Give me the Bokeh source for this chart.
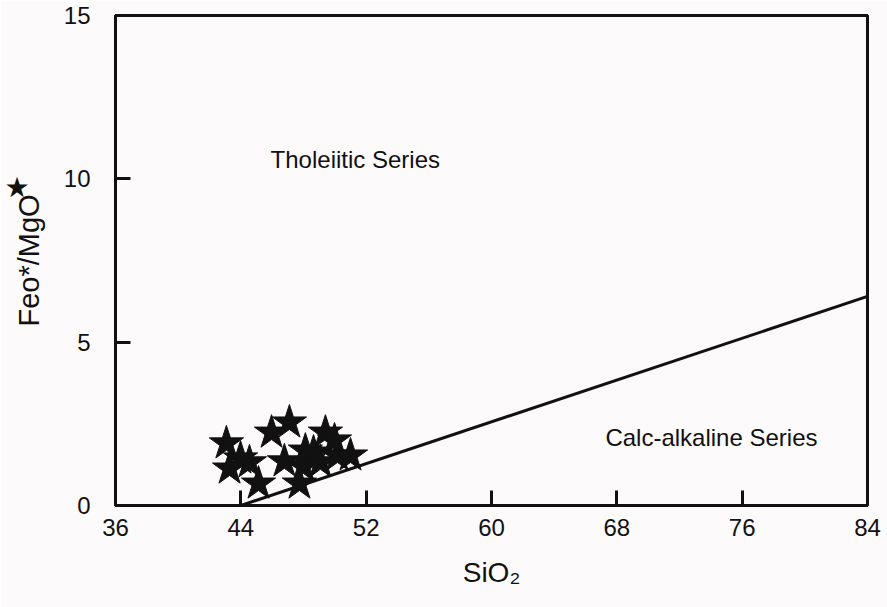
import math
from bokeh.plotting import figure
from bokeh.models import Range1d, FixedTicker, Label, ColumnDataSource, LinearAxis
from bokeh.embed import file_html
from bokeh.resources import INLINE

# data
sio2 = [43.08, 43.28, 43.98, 44.55, 45.13, 45.96, 47.10, 46.78, 47.74,
        48.12, 48.64, 49.40, 49.98, 48.00, 49.08, 50.17, 51.00]
feo_mgo = [1.90, 1.13, 1.44, 1.32, 0.67, 2.23, 2.54, 1.35, 0.67,
           1.68, 1.62, 2.23, 1.99, 1.19, 1.32, 1.53, 1.53]
boundary_x = [44, 84]
boundary_y = [0, 6.4]
x_ticks = [36, 44, 52, 60, 68, 76, 84]
y_ticks = [0, 5, 10, 15]
star_mark_y = 9.72

FONT = "Liberation Sans"
BG = "#fcfafa"
INK = "#111111"

p = figure(width=887, height=607, output_backend="svg", toolbar_location=None,
           x_range=Range1d(36, 84), y_range=Range1d(0, 15),
           min_border_left=115, min_border_right=20, min_border_top=15,
           min_border_bottom=102)
p.background_fill_color = BG
p.border_fill_color = BG
p.outline_line_color = INK
p.outline_line_width = 3
p.grid.visible = False

for ax in (p.xaxis[0], p.yaxis[0]):
    ax.axis_line_color = INK
    ax.axis_line_width = 3
    ax.major_tick_in = 15
    ax.major_tick_out = 0
    ax.major_tick_line_width = 3
    ax.major_tick_line_color = INK
    ax.minor_tick_line_color = None
    ax.major_label_text_font = FONT
    ax.major_label_text_font_size = "24px"
    ax.major_label_text_color = INK
    ax.axis_label_text_font = FONT
    ax.axis_label_text_font_style = "normal"
    ax.axis_label_text_color = INK
p.xaxis.ticker = FixedTicker(ticks=x_ticks)
p.yaxis.ticker = FixedTicker(ticks=y_ticks)
p.xaxis.major_label_standoff = 13
p.yaxis.major_label_standoff = 25
p.yaxis.axis_label = "Feo*/MgO"
p.yaxis.axis_label_text_font_size = "29px"
p.yaxis.axis_label_standoff = 16
p.xaxis.axis_label = "SiO₂"
p.xaxis.axis_label_text_font_size = "28px"
p.xaxis.axis_label_standoff = 18

# outer left axis carrying only the star symbol of the y title
star_axis = LinearAxis(ticker=FixedTicker(ticks=[star_mark_y]),
                       major_label_overrides={star_mark_y: "★"},
                       axis_line_color=None, major_tick_line_color=None,
                       minor_tick_line_color=None,
                       major_label_text_font="DejaVu Sans",
                       major_label_text_font_size="28px",
                       major_label_text_color=INK,
                       major_label_standoff=-26)
p.add_layout(star_axis, "left")

p.line(boundary_x, boundary_y, line_color=INK, line_width=3)

src = ColumnDataSource(dict(x=sio2, y=feo_mgo))
p.scatter("x", "y", source=src, marker="star", size=36,
          fill_color=INK, line_color=INK)

p.add_layout(Label(x=45.9, y=10.6, text="Tholeiitic Series", text_font=FONT,
                   text_font_size="24px", text_color=INK,
                   text_baseline="middle", text_align="left"))
p.add_layout(Label(x=67.27, y=2.08, text="Calc-alkaline Series", text_font=FONT,
                   text_font_size="24px", text_color=INK,
                   text_baseline="middle", text_align="left"))

open("out.html", "w").write(file_html(p, INLINE))
